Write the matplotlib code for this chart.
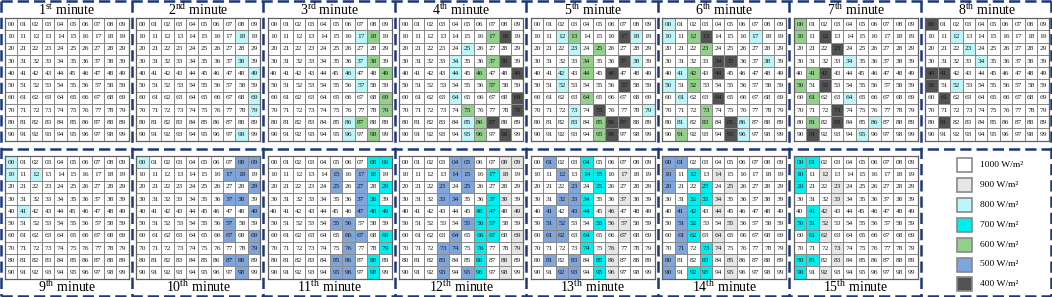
import matplotlib
matplotlib.use("Agg")
import matplotlib.pyplot as plt
import numpy as np
from matplotlib.colors import ListedColormap
from matplotlib.patches import Rectangle
from matplotlib.lines import Line2D

plt.rcParams['font.family'] = ['Liberation Serif', 'DejaVu Serif']
plt.rcParams['mathtext.fontset'] = 'custom'
plt.rcParams['mathtext.rm'] = 'Liberation Serif'
plt.rcParams['mathtext.it'] = 'Liberation Serif:italic'
plt.rcParams['mathtext.bf'] = 'Liberation Serif:bold'

# ---- data ----
levels = [1000, 900, 800, 700, 600, 500, 400]
level_colors = ['#FFFFFF', '#E6E6E6', '#BDF6F8', '#00EEEE', '#92D08C', '#7FA5DC', '#525252']
legend_labels = ["1000 W/m²", "900 W/m²", "800 W/m²", "700 W/m²",
                 "600 W/m²", "500 W/m²", "400 W/m²"]
ordinals = ["1st", "2nd", "3rd", "4th", "5th", "6th", "7th", "8th",
            "9th", "10th", "11th", "12th", "13th", "14th", "15th"]

minute_01 = {}
minute_02 = {800: [18, 38, 49, 69, 79, 98]}
minute_03 = {800: [17, 37, 46, 57, 86, 96],
             600: [18, 38, 49, 69, 79, 87, 98]}
minute_04 = {800: [25, 34, 44, 64, 85, 95],
             600: [17, 37, 46, 57, 75, 86, 96],
             400: [18, 38, 49, 69, 79, 87, 98]}
minute_05 = {800: [12, 18, 23, 38, 42, 52, 73, 79, 83],
             600: [13, 25, 34, 44, 64, 85, 95],
             400: [17, 37, 46, 57, 75, 86, 87, 96]}
minute_06 = {800: [0, 10, 17, 38, 41, 50, 61, 81, 86, 96],
             600: [12, 23, 42, 52, 73, 83, 91],
             400: [13, 34, 35, 44, 64, 85, 95]}
minute_07 = {600: [0, 10, 41, 50, 61, 81],
             400: [12, 23, 42, 52, 73, 83, 91],
             800: [34, 64, 86, 95]}
minute_08 = {400: [0, 40, 41, 50, 61, 81],
             800: [12, 23, 34, 52]}
minute_09 = {800: [0, 10, 12, 41]}
minute_10 = {800: [0],
             500: [8, 9, 17, 18, 29, 37, 38, 49, 57, 67, 69, 79, 87, 88, 98]}
minute_11 = {700: [8, 9, 18, 29, 38, 48, 49, 69, 79, 88, 98],
             500: [15, 17, 25, 27, 37, 47, 55, 56, 66, 67, 76, 85, 86, 95, 96]}
minute_12 = {900: [8, 9, 18, 38, 49, 69, 79, 88, 98],
             700: [17, 37, 46, 47, 56, 57, 66, 67, 76, 86, 96],
             500: [4, 5, 14, 15, 23, 25, 33, 34, 55, 64, 73, 74, 83, 93, 95]}
minute_13 = {500: [1, 12, 23, 32, 33, 41, 43, 51, 52, 61, 62, 81, 83, 92, 93],
             700: [4, 14, 15, 25, 34, 44, 55, 64, 74, 85, 95],
             900: [17, 37, 46, 56, 57, 67, 76, 86, 96]}
minute_14 = {500: [0, 1, 10, 20, 41, 51, 61, 71, 80, 90],
             700: [12, 23, 32, 33, 42, 52, 62, 73, 83, 92, 93],
             900: [14, 25, 34, 44, 55, 64, 74, 85, 95]}
minute_15 = {700: [0, 1, 10, 20, 41, 50, 51, 61, 80, 81, 90],
             900: [12, 23, 33, 42, 52, 62, 73, 83, 92]}

minutes = [minute_01, minute_02, minute_03, minute_04, minute_05,
           minute_06, minute_07, minute_08, minute_09, minute_10,
           minute_11, minute_12, minute_13, minute_14, minute_15]

# ---- figure ----
W, H = 1052, 297
fig = plt.figure(figsize=(W / 100, H / 100), dpi=100)
cmap = ListedColormap(level_colors)
navy = '#1C3878'


def fx(px):
    return px / W


def fy(py):
    return 1 - py / H


def title_text(o):
    num = ''.join(ch for ch in o if ch.isdigit())
    suf = o[len(num):]
    return num + r"$^{\mathrm{" + suf + "}}$ minute"


pitch = 131.5
gw, gh = 124, 122.5
for i, d in enumerate(minutes):
    row, col = divmod(i, 8)
    x0 = 4.8 + pitch * col
    y_top = 18.0 if row == 0 else 156.0
    ax = fig.add_axes([fx(x0), fy(y_top + gh), fx(gw), gh / H])
    grid = np.zeros((10, 10), dtype=int)
    for lvl, cells in d.items():
        for c in cells:
            grid[c // 10, c % 10] = levels.index(lvl)
    ax.pcolormesh(np.arange(11), np.arange(11), grid, cmap=cmap,
                  vmin=-0.5, vmax=len(levels) - 0.5,
                  edgecolors='#8A8A8A', linewidth=0.6)
    for r in range(10):
        for c in range(10):
            ax.text(c + 0.5, r + 0.53, f"{r}{c}", ha='center', va='center',
                    fontsize=5.3, color='#1A1A1A')
    ax.set_xlim(0, 10)
    ax.set_ylim(10, 0)
    ax.set_xticks([])
    ax.set_yticks([])
    for s in ax.spines.values():
        s.set_color('#606060')
        s.set_linewidth(0.9)
    cx = x0 + gw / 2
    ty = 10.0 if row == 0 else 287.0
    fig.text(fx(cx), fy(ty), title_text(ordinals[i]), ha='center',
             va='center', fontsize=10)

# ---- legend ----
lax = fig.add_axes([fx(4.8 + pitch * 7), 0, fx(pitch - 6), fy(150)])
lax.set_xlim(0, pitch - 6)
lax.set_ylim(147, 0)
lax.axis('off')
for k, (col_, lab) in enumerate(zip(level_colors, legend_labels)):
    yc = 15 + 19.9 * k
    lax.add_patch(Rectangle((32, yc - 7), 15, 14, facecolor=col_,
                            edgecolor='#8A8A8A', linewidth=1.2))
    lax.text(55, yc, lab, ha='left', va='center', fontsize=6.8)

# ---- dashed frame ----
dash = dict(color=navy, linewidth=1.8, linestyle=(0, (4.5, 2.0)))
for k in range(1, 8):
    fig.add_artist(Line2D([fx(pitch * k)] * 2, [fy(1), fy(296)], **dash))
fig.add_artist(Line2D([fx(1), fx(1051)], [fy(148.5)] * 2, **dash))
fig.add_artist(Line2D([fx(1), fx(1051)], [fy(1.2)] * 2, **dash))
fig.add_artist(Line2D([fx(1), fx(1051)], [fy(295.8)] * 2, **dash))
fig.add_artist(Line2D([fx(1.2)] * 2, [fy(1), fy(296)], **dash))
fig.add_artist(Line2D([fx(1050.8)] * 2, [fy(1), fy(296)], **dash))

fig.savefig("out.png", dpi=100)
